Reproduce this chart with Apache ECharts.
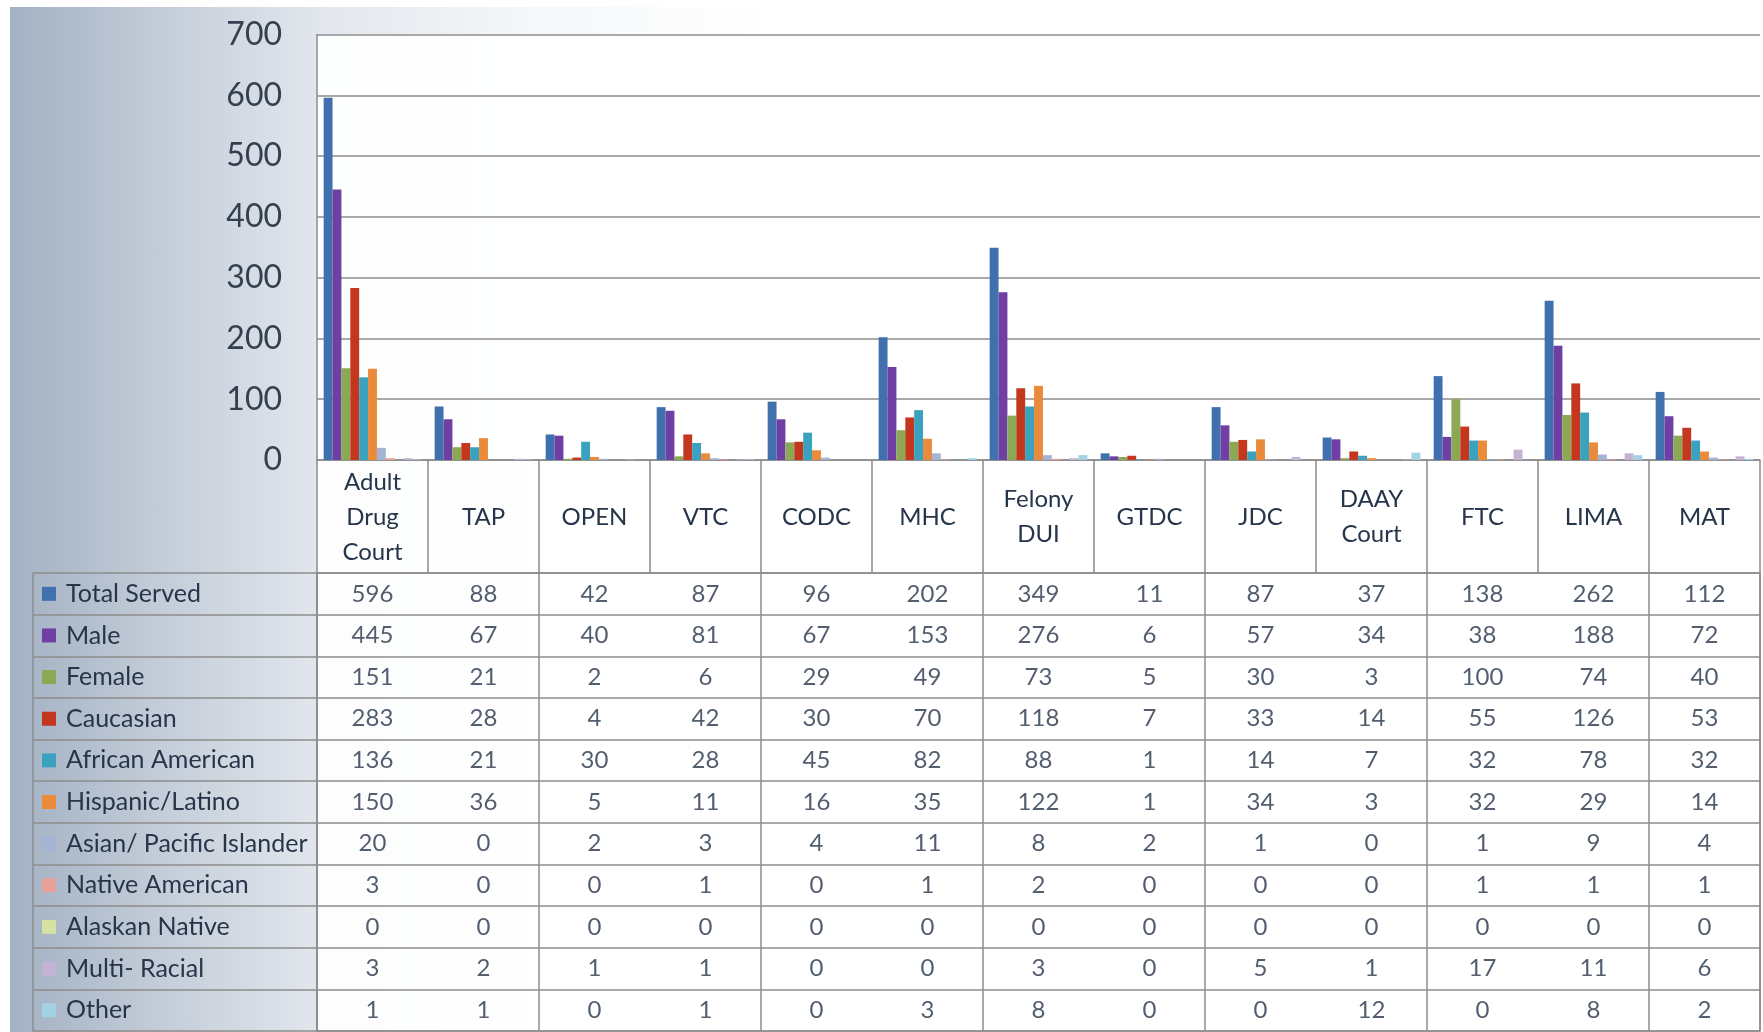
<!DOCTYPE html>
<html>
<head>
<meta charset="utf-8">
<title>Courts served</title>
<script src="https://cdn.jsdelivr.net/npm/echarts@6/dist/echarts.min.js"></script>
<style>
    html, body { margin: 0; padding: 0; background: #ffffff; overflow: hidden; }
    #bg {
        position: absolute; left: 10px; top: 7px; width: 1753px; height: 1025px;
        background: linear-gradient(to right, #a3b1c3 0px, #c3ccd8 150px, #e2e7ed 310px, #f5f7f9 520px, #ffffff 760px);
    }
    #main { position: absolute; left: 0; top: 0; width: 1763px; height: 1032px; }
</style>
</head>
<body>
<div id="bg"></div>
<div id="main"></div>
<script>
// 类目（各法院项目）
var courts = ['Adult Drug Court', 'TAP', 'OPEN', 'VTC', 'CODC', 'MHC', 'Felony DUI', 'GTDC', 'JDC', 'DAAY Court', 'FTC', 'LIMA', 'MAT'];
// 系列名
var seriesNames = ['Total Served', 'Male', 'Female', 'Caucasian', 'African American', 'Hispanic/Latino',
    'Asian/ Pacific Islander', 'Native American', 'Alaskan Native', 'Multi- Racial', 'Other'];
// 各系列数值
var totalServed     = [596, 88, 42, 87, 96, 202, 349, 11, 87, 37, 138, 262, 112];
var male            = [445, 67, 40, 81, 67, 153, 276, 6, 57, 34, 38, 188, 72];
var female          = [151, 21, 2, 6, 29, 49, 73, 5, 30, 3, 100, 74, 40];
var caucasian       = [283, 28, 4, 42, 30, 70, 118, 7, 33, 14, 55, 126, 53];
var africanAmerican = [136, 21, 30, 28, 45, 82, 88, 1, 14, 7, 32, 78, 32];
var hispanicLatino  = [150, 36, 5, 11, 16, 35, 122, 1, 34, 3, 32, 29, 14];
var asianPacific    = [20, 0, 2, 3, 4, 11, 8, 2, 1, 0, 1, 9, 4];
var nativeAmerican  = [3, 0, 0, 1, 0, 1, 2, 0, 0, 0, 1, 1, 1];
var alaskanNative   = [0, 0, 0, 0, 0, 0, 0, 0, 0, 0, 0, 0, 0];
var multiRacial     = [3, 2, 1, 1, 0, 0, 3, 0, 5, 1, 17, 11, 6];
var other           = [1, 1, 0, 1, 0, 3, 8, 0, 0, 12, 0, 8, 2];
// 纵轴刻度
var yMin = 0, yMax = 700, yStep = 100;

var seriesData = [totalServed, male, female, caucasian, africanAmerican, hispanicLatino,
    asianPacific, nativeAmerican, alaskanNative, multiRacial, other];
var colors = ['#4170ae', '#6f3fa3', '#8ba852', '#c4371f', '#3aa2be', '#ea8a3b',
    '#a5b4d3', '#e7a198', '#d5e2a2', '#c4b3d4', '#a3d3e3'];

var font = 'Lato, "Open Sans", sans-serif';
var textColor = '#27354a';
var lineColor = '#8c8c8c';

var myChart = echarts.init(document.getElementById('main'));

// 柱状图系列
var series = [];
for (var i = 0; i < seriesNames.length; i++) {
    series.push({
        name: seriesNames[i],
        type: 'bar',
        xAxisIndex: 0,
        yAxisIndex: 0,
        barGap: '0%',
        barCategoryGap: '12%',
        itemStyle: { color: colors[i] },
        data: seriesData[i]
    });
}

// 数据表格中的数字
var tableCells = [];
for (var r = 0; r < seriesData.length; r++) {
    for (var c = 0; c < courts.length; c++) {
        tableCells.push([c, r, seriesData[r][c]]);
    }
}
series.push({
    type: 'scatter',
    xAxisIndex: 2,
    yAxisIndex: 2,
    silent: true,
    symbolSize: 1,
    itemStyle: { color: 'rgba(0,0,0,0)' },
    label: {
        show: true,
        position: 'inside',
        fontFamily: font,
        fontSize: 24,
        color: textColor,
        formatter: function (p) { return p.value[2]; }
    },
    data: tableCells
});

// 图例小方块
var rich = {
    t: { fontFamily: font, fontSize: 25, color: textColor, padding: [0, 0, 0, 10] }
};
for (var k = 0; k < colors.length; k++) {
    rich['s' + k] = { width: 14, height: 14, backgroundColor: colors[k] };
}

var option = {
    animation: false,
    backgroundColor: 'transparent',
    textStyle: { fontFamily: font },
    grid: [
        // 柱状图区域
        { left: 317, top: 34.5, width: 1443, height: 425.5, show: true, backgroundColor: 'rgba(255,255,255,0.93)', borderWidth: 0, containLabel: false, outerBoundsMode: 'none' },
        // 表头
        { left: 317, top: 460, width: 1443, height: 113, show: true, backgroundColor: 'rgba(255,255,255,0.9)', borderWidth: 0, containLabel: false, outerBoundsMode: 'none' },
        // 数据表格
        { left: 317, top: 573, width: 1443, height: 458, show: true, backgroundColor: 'rgba(255,255,255,0.9)', borderColor: lineColor, borderWidth: 1.5, containLabel: false, outerBoundsMode: 'none' }
    ],
    xAxis: [
        {
            type: 'category',
            gridIndex: 0,
            data: courts,
            boundaryGap: true,
            axisLine: { show: true, lineStyle: { color: lineColor, width: 1.5 } },
            axisTick: { show: true, length: 113, alignWithLabel: false, lineStyle: { color: lineColor, width: 1.5 } },
            axisLabel: {
                interval: 0,
                margin: 57,
                verticalAlign: 'middle',
                fontFamily: font,
                fontSize: 24,
                lineHeight: 35,
                color: textColor,
                formatter: function (v) { return v.split(' ').join('\n'); }
            },
            splitLine: { show: false }
        },
        { type: 'category', gridIndex: 1, show: false, data: courts },
        {
            type: 'category',
            gridIndex: 2,
            position: 'top',
            data: courts,
            boundaryGap: true,
            axisLine: { show: false },
            axisTick: { show: false },
            axisLabel: { show: false },
            splitLine: { show: true, showMinLine: true, showMaxLine: true, lineStyle: { color: lineColor, width: 1.5 } }
        }
    ],
    yAxis: [
        {
            type: 'value',
            gridIndex: 0,
            min: yMin,
            max: yMax,
            interval: yStep,
            axisLine: { show: true, lineStyle: { color: lineColor, width: 1.5 } },
            axisTick: { show: false },
            axisLabel: { margin: 35, fontFamily: font, fontSize: 32, color: '#343f4f' },
            splitLine: { show: true, lineStyle: { color: lineColor, width: 1.5 } }
        },
        { type: 'value', gridIndex: 1, show: false },
        {
            type: 'category',
            gridIndex: 2,
            inverse: true,
            data: seriesNames,
            boundaryGap: true,
            axisLine: { show: true, lineStyle: { color: lineColor, width: 1.5 } },
            axisTick: { show: true, length: 284, alignWithLabel: false, lineStyle: { color: lineColor, width: 1.5 } },
            axisLabel: {
                interval: 0,
                align: 'left',
                margin: 275,
                formatter: function (v, idx) { return '{s' + idx + '|}{t|' + v + '}'; },
                rich: rich
            },
            splitLine: { show: true, lineStyle: { color: lineColor, width: 1.5 } }
        },
        {
            // 表格左边框
            type: 'category',
            gridIndex: 2,
            data: seriesNames,
            position: 'left',
            offset: 284,
            axisLine: { show: true, lineStyle: { color: lineColor, width: 1.5 } },
            axisTick: { show: false },
            axisLabel: { show: false },
            splitLine: { show: false }
        }
    ],
    series: series
};

myChart.setOption(option);
</script>
</body>
</html>
